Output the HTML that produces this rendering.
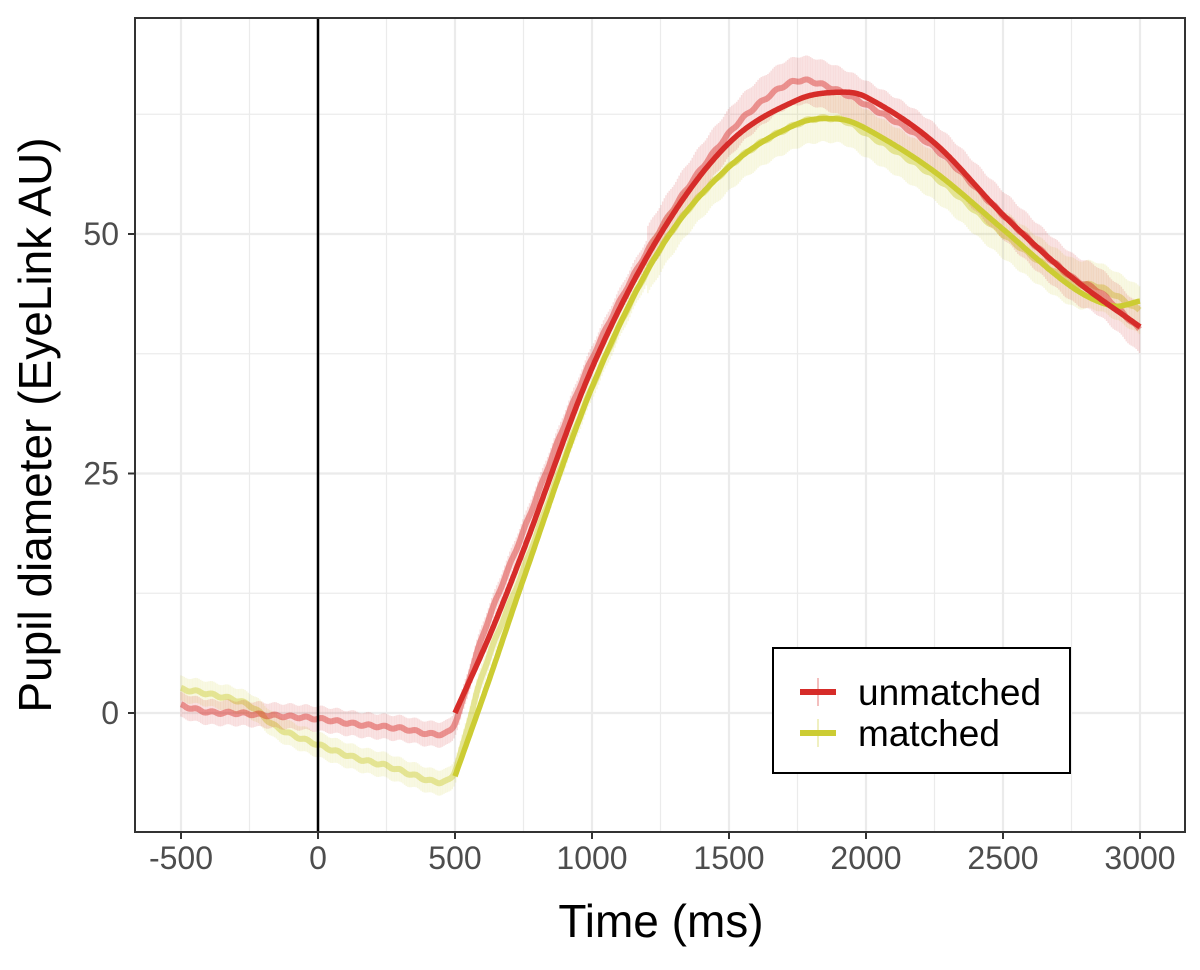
<!DOCTYPE html>
<html><head><meta charset="utf-8"><style>
body{margin:0;background:#fff;}
svg text{font-family:"Liberation Sans",Arial,sans-serif;}
</style></head><body>
<svg id="s" width="1200" height="965" xmlns="http://www.w3.org/2000/svg">
<rect width="1200" height="965" fill="#fff"/>
<g id="grid"></g>
<g id="data"></g>
<line x1="318" y1="18" x2="318" y2="832" stroke="#000" stroke-width="2.5"/>
<rect x="135" y="18" width="1050" height="814" fill="none" stroke="#333" stroke-width="2"/>
<g id="ticks" fill="#4d4d4d" font-size="32"></g>
<text x="661" y="937" font-size="46" text-anchor="middle" fill="#000">Time (ms)</text>
<text transform="translate(51,425) rotate(-90)" font-size="46" text-anchor="middle" fill="#000">Pupil diameter (EyeLink AU)</text>
<rect x="773" y="648" width="297" height="125" fill="#fff" stroke="#000" stroke-width="2"/>
<line x1="800" y1="692" x2="836" y2="692" stroke="#d62c29" stroke-width="6"/>
<line x1="818" y1="678" x2="818" y2="706" stroke="#d62c29" stroke-opacity="0.3" stroke-width="2"/>
<line x1="800" y1="733" x2="836" y2="733" stroke="#cccc33" stroke-width="6"/>
<line x1="818" y1="719" x2="818" y2="747" stroke="#cccc33" stroke-opacity="0.3" stroke-width="2"/>
<text x="858" y="705" font-size="37">unmatched</text>
<text x="858" y="746" font-size="37">matched</text>
</svg>
<script>
const X=t=>318+t*137/500, Y=v=>713-v*9.58;
const ns="http://www.w3.org/2000/svg";
function el(p,tag,a){const e=document.createElementNS(ns,tag);for(const k in a)e.setAttribute(k,a[k]);document.getElementById(p).appendChild(e);return e;}
for(let t=-750;t<=3250;t+=250){const x=X(t);if(x<135||x>1185)continue;el("grid","line",{x1:x,x2:x,y1:18,y2:832,stroke:"#ebebeb","stroke-width":t%500==0?2.2:1.2});}
for(let v=-12.5;v<=75;v+=12.5){const y=Y(v);if(y<18||y>832)continue;el("grid","line",{x1:135,x2:1185,y1:y,y2:y,stroke:"#ebebeb","stroke-width":v%25==0?2.2:1.2});}
for(let t=-500;t<=3000;t+=500){el("ticks","line",{x1:X(t),x2:X(t),y1:832,y2:839,stroke:"#333","stroke-width":2});const tx=el("ticks","text",{x:X(t),y:869,"text-anchor":"middle"});tx.textContent=t;}
for(const v of [0,25,50]){el("ticks","line",{x1:128,x2:135,y1:Y(v),y2:Y(v),stroke:"#333","stroke-width":2});const tx=el("ticks","text",{x:119,y:Y(v)+11,"text-anchor":"end"});tx.textContent=v;}
function interp(p,t){
 for(let i=1;i<p.length;i++){if(t<=p[i][0]){
  const p1=p[i-1],p2=p[i],p0=p[i-2]||p1,p3=p[i+1]||p2;
  const f=(t-p1[0])/(p2[0]-p1[0]);
  const h=p2[0]-p1[0];
  const m1=(p2[1]-p0[1])/(p2[0]-p0[0]||1)*h, m2=(p3[1]-p1[1])/(p3[0]-p1[0]||1)*h;
  const f2=f*f,f3=f2*f;
  return (2*f3-3*f2+1)*p1[1]+(f3-2*f2+f)*m1+(-2*f3+3*f2)*p2[1]+(f3-f2)*m2;}}
 return p[p.length-1][1];}
const redRaw=[[-500,0.8],[-400,0.1],[-300,0],[-200,-0.2],[0,-0.6],[150,-1.2],[300,-1.6],[450,-2.2],[500,-1],[600,8],[750,19],[1000,37],[1250,50.5],[1500,60.5],[1650,64.5],[1750,66],[1850,65.5],[2000,63.5],[2250,59],[2500,52],[2750,45.5],[2850,44],[3000,40]];
const yelRaw=[[-500,2.5],[-400,2],[-250,0.8],[-150,-1.5],[0,-3.3],[150,-4.8],[250,-5.5],[350,-6.5],[450,-7.2],[500,-6],[600,4],[750,15],[1000,34],[1250,48.5],[1500,57],[1750,61.5],[1900,62],[2000,60.5],[2250,56],[2500,50],[2750,45],[2850,44.5],[3000,42]];
const redFit=[[500,0],[625,8],[750,17],[1000,36],[1250,50],[1500,59.5],[1750,64],[1900,64.8],[2000,64.3],[2250,59.5],[2500,52],[2750,45.5],[3000,40.3]];
const yelFit=[[500,-6.6],[625,3.5],[750,14],[1000,34],[1250,48.5],[1500,57],[1750,61.5],[1900,62],[2000,61],[2250,56.5],[2500,50.5],[2750,44.5],[2900,42.5],[3000,43]];
function raw(pts,col){let d="";for(let t=-500;t<=3000;t+=6){const v=interp(pts,t)+Math.sin(t*0.11)*0.12;const e=t>1200?2.5:1.3;el("data","line",{x1:X(t),x2:X(t),y1:Y(v-e),y2:Y(v+e),stroke:col,"stroke-opacity":0.16,"stroke-width":1.5});d+=(d?"L":"M")+X(t).toFixed(1)+","+Y(v).toFixed(1);}el("data","path",{d,fill:"none",stroke:col,"stroke-opacity":0.45,"stroke-width":6});}
raw(yelRaw,"#cccc33");raw(redRaw,"#d62c29");
function fit(pts,col){let d="";for(let t=500;t<=3000;t+=5){d+=(d?"L":"M")+X(t).toFixed(1)+","+Y(interp(pts,t)).toFixed(1);}el("data","path",{d,fill:"none",stroke:col,"stroke-width":5.5,"stroke-linejoin":"round"});}
fit(yelFit,"#cccc33");fit(redFit,"#d62c29");
</script>
</body></html>
